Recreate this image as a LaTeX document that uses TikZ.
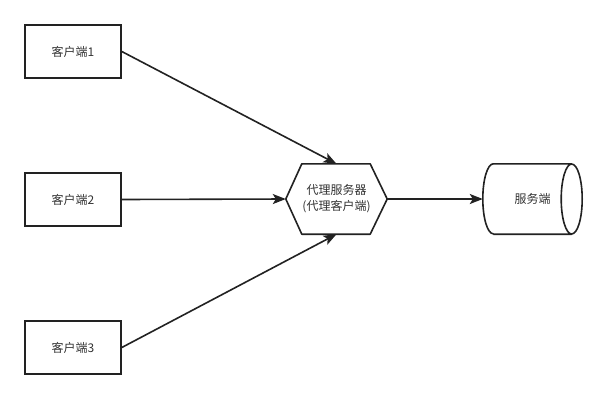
\documentclass[tikz,border=0pt]{standalone}
\usepackage{fontspec}
\setmainfont{Noto Sans CJK SC}
\usetikzlibrary{arrows.meta,calc}
\definecolor{linec}{HTML}{222222}
\definecolor{txtc}{HTML}{333333}
\tikzset{
  client/.style={draw=linec, line width=1.6pt, minimum width=96pt, minimum height=53pt, inner sep=0pt, text=txtc, font=\fontsize{12}{16}\selectfont},
  plain/.style={inner sep=0pt, text=txtc, font=\fontsize{12}{16}\selectfont, align=center},
  shapeline/.style={draw=linec, line width=1.6pt, line join=round},
  arr/.style={draw=linec, line width=1.6pt, -{Stealth[length=13pt,width=10pt,inset=3pt]}},
}
\begin{document}
\begin{tikzpicture}[x=1pt,y=-1pt]
\useasboundingbox (0,0) rectangle (608,400);
\node[client] (c1) at (73,51.5) {客户端1};
\node[client] (c2) at (73,199.5) {客户端2};
\node[client] (c3) at (73,347.5) {客户端3};
\node[plain, minimum width=101pt, minimum height=70pt] (hex) at (336.5,199) {代理服务器\\(代理客户端)};
\draw[shapeline] (hex.west) -- ($(hex.north west)+(16,0)$) -- ($(hex.north east)+(-17,0)$) -- (hex.east) -- ($(hex.south east)+(-17,0)$) -- ($(hex.south west)+(16,0)$) -- cycle;
\node[plain, minimum width=99pt, minimum height=70pt] (srv) at (532.5,199) {服务端};
\draw[shapeline] ($(srv.north west)+(10.5,0)$) -- ($(srv.north east)+(-10.5,0)$)
  ($(srv.south west)+(10.5,0)$) -- ($(srv.south east)+(-10.5,0)$)
  ($(srv.north west)+(10.5,0)$) arc[start angle=90, end angle=270, x radius=10.5pt, y radius=35pt]
  ($(srv.east)+(-10.5,0)$) ellipse[x radius=10.5pt, y radius=35pt];
\draw[arr] (c1.east) -- (hex.north);
\draw[arr] (c2.east) -- (hex.west);
\draw[arr] (c3.east) -- (hex.south);
\draw[arr] (hex.east) -- (srv.west);
\end{tikzpicture}
\end{document}
